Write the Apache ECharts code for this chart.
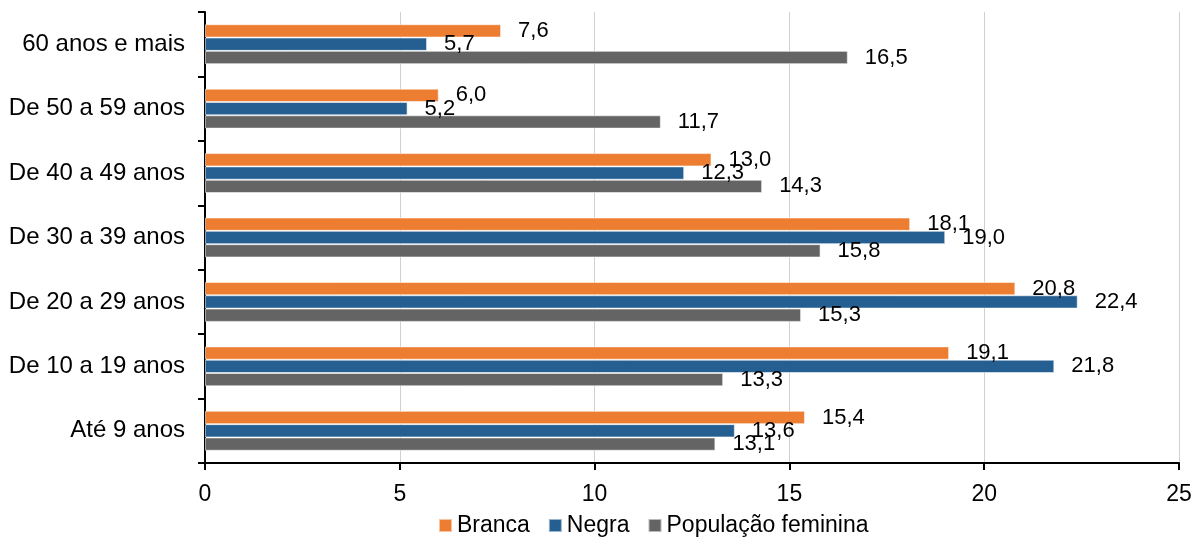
<!DOCTYPE html>
<html>
<head>
<meta charset="utf-8">
<script src="https://cdn.jsdelivr.net/npm/echarts@6/dist/echarts.min.js"></script>
<style>
  html, body { margin: 0; padding: 0; background: #ffffff; }
  #chart { width: 1201px; height: 542px; }
</style>
</head>
<body>
<div id="chart"></div>
<script>
// Age groups, listed from the bottom of the axis to the top
const categories = ['Até 9 anos', 'De 10 a 19 anos', 'De 20 a 29 anos', 'De 30 a 39 anos', 'De 40 a 49 anos', 'De 50 a 59 anos', '60 anos e mais'];
const branca = [15.4, 19.1, 20.8, 18.1, 13.0, 6.0, 7.6];
const negra = [13.6, 21.8, 22.4, 19.0, 12.3, 5.2, 5.7];
const populacaoFeminina = [13.1, 13.3, 15.3, 15.8, 14.3, 11.7, 16.5];
const xTicks = [0, 5, 10, 15, 20, 25];

const FONT = 'Liberation Sans, Arial, sans-serif';
const fmt = v => v.toFixed(1).replace('.', ',');

function barSeries(name, data, color) {
  return {
    name: name,
    type: 'bar',
    data: data,
    barGap: '0%',
    barCategoryGap: '38%',
    itemStyle: { color: color, borderColor: 'rgba(255,255,255,0.55)', borderWidth: 1 },
    label: {
      show: true,
      position: 'right',
      distance: 17,
      color: '#000000',
      fontFamily: FONT,
      fontSize: 22,
      formatter: p => fmt(p.value)
    },
    emphasis: { disabled: true },
    animation: false
  };
}

const chart = echarts.init(document.getElementById('chart'), null, { renderer: 'canvas' });
chart.setOption({
  animation: false,
  grid: { left: 205, right: 22, top: 12, bottom: 79, containLabel: false },
  legend: {
    bottom: 0,
    left: 433,
    icon: 'rect',
    itemWidth: 13,
    itemHeight: 13,
    itemGap: 18,
    textStyle: { fontFamily: FONT, fontSize: 23, color: '#000000', padding: [0, 0, 0, 0] },
    data: ['Branca', 'Negra', 'População feminina']
  },
  xAxis: {
    type: 'value',
    min: xTicks[0],
    max: xTicks[xTicks.length - 1],
    interval: 5,
    axisLine: { show: true, lineStyle: { color: '#000000', width: 2 } },
    axisTick: { show: true, length: 7, lineStyle: { color: '#000000', width: 2 } },
    axisLabel: { fontFamily: FONT, fontSize: 23, color: '#000000', margin: 20 },
    splitLine: { show: true, lineStyle: { color: '#d0d0d0', width: 1 } }
  },
  yAxis: {
    type: 'category',
    data: categories,
    axisLine: { show: true, lineStyle: { color: '#000000', width: 2 } },
    axisTick: { show: true, length: 7, alignWithLabel: false, lineStyle: { color: '#000000', width: 2 } },
    axisLabel: { fontFamily: FONT, fontSize: 24, color: '#000000', margin: 20 }
  },
  series: [
    barSeries('Branca', branca, '#ed7d31'),
    barSeries('Negra', negra, '#255e91'),
    barSeries('População feminina', populacaoFeminina, '#646464')
  ]
});
</script>
</body>
</html>
